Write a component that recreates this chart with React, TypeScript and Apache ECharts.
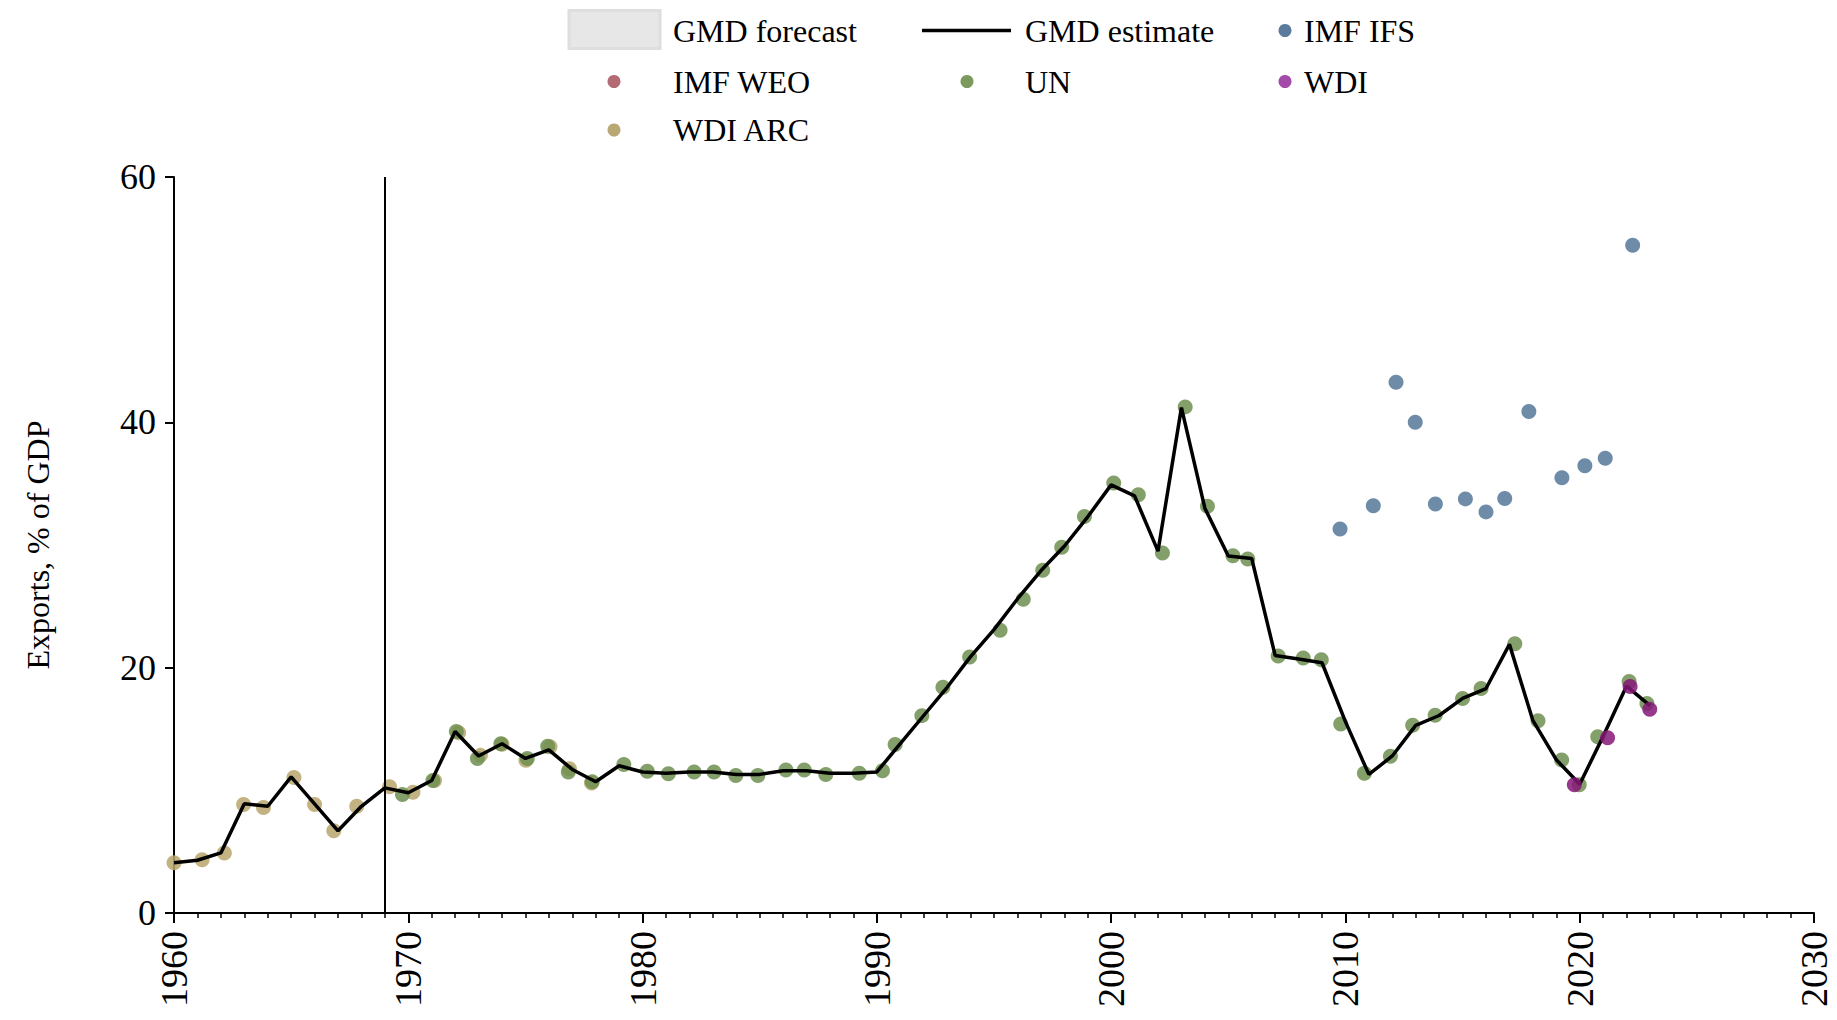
import React, { useEffect, useRef } from "react";
import * as echarts from "echarts";

// ---------------- data ----------------
const years = [
  1960, 1961, 1962, 1963, 1964, 1965, 1966, 1967, 1968, 1969,
  1970, 1971, 1972, 1973, 1974, 1975, 1976, 1977, 1978, 1979,
  1980, 1981, 1982, 1983, 1984, 1985, 1986, 1987, 1988, 1989,
  1990, 1991, 1992, 1993, 1994, 1995, 1996, 1997, 1998, 1999,
  2000, 2001, 2002, 2003, 2004, 2005, 2006, 2007, 2008, 2009,
  2010, 2011, 2012, 2013, 2014, 2015, 2016, 2017, 2018, 2019,
  2020, 2021, 2022, 2023,
];
const gmdEstimate = [
  4.1, 4.3, 4.9, 8.9, 8.7, 11.1, 8.9, 6.7, 8.7, 10.2,
  9.8, 10.8, 14.8, 12.8, 13.8, 12.6, 13.3, 11.7, 10.7, 12.0,
  11.5, 11.4, 11.5, 11.5, 11.3, 11.3, 11.6, 11.6, 11.4, 11.4,
  11.5, 13.8, 16.1, 18.4, 20.9, 23.1, 25.6, 27.9, 29.9, 32.3,
  34.9, 34.0, 29.5, 41.2, 33.0, 29.1, 28.9, 21.0, 20.7, 20.4,
  15.6, 11.3, 12.8, 15.3, 16.1, 17.5, 18.3, 21.9, 15.7, 12.5,
  10.5, 14.4, 18.5, 16.9,
];

const ifsX = [2009.77, 2011.19, 2012.16, 2012.98, 2013.84, 2015.12, 2016.0, 2016.8, 2017.83, 2019.24, 2020.22, 2021.09, 2022.26];
const ifsY = [31.3, 33.2, 43.27, 40.0, 33.35, 33.76, 32.7, 33.8, 40.88, 35.48, 36.47, 37.07, 54.44];

const weoX: number[] = [];
const weoY: number[] = [];

const unX = [
  1969.75, 1971.05, 1972.05, 1972.95, 1973.95, 1975.08, 1975.95, 1976.83, 1977.85, 1979.2,
  1980.2, 1981.1, 1982.2, 1983.05, 1983.98, 1984.92, 1986.12, 1986.9, 1987.82, 1989.25,
  1990.24, 1990.78, 1991.92, 1992.82, 1993.96, 1995.26, 1996.25, 1997.08, 1997.89, 1998.86,
  2000.11, 2001.16, 2002.19, 2003.16, 2004.11, 2005.2, 2005.83, 2007.13, 2008.2, 2008.97,
  2009.8, 2010.81, 2011.92, 2012.87, 2013.83, 2015.0, 2015.79, 2017.23, 2018.22, 2019.23,
  2019.98, 2020.77, 2022.11, 2022.87,
];
const unY = [
  9.66, 10.8, 14.8, 12.6, 13.8, 12.6, 13.6, 11.5, 10.7, 12.1,
  11.55, 11.35, 11.5, 11.5, 11.2, 11.2, 11.65, 11.65, 11.3, 11.4,
  11.6, 13.73, 16.09, 18.41, 20.87, 23.05, 25.58, 27.95, 29.81, 32.32,
  35.05, 34.09, 29.35, 41.26, 33.16, 29.13, 28.86, 20.95, 20.78, 20.64,
  15.4, 11.4, 12.77, 15.3, 16.12, 17.48, 18.3, 21.95, 15.67, 12.48,
  10.45, 14.36, 18.88, 17.07,
];

const wdiX = [2019.77, 2021.19, 2022.15, 2022.99];
const wdiY = [10.45, 14.29, 18.47, 16.6];

const wdiArcX = [1960.0, 1961.2, 1962.15, 1962.97, 1963.82, 1965.12, 1966.0, 1966.82, 1967.8, 1969.2, 1970.2, 1971.12, 1972.15, 1973.08, 1974.0, 1975.02, 1976.05, 1976.88, 1977.82];
const wdiArcY = [4.1, 4.35, 4.9, 8.85, 8.6, 11.05, 8.85, 6.7, 8.7, 10.3, 9.85, 10.8, 14.7, 12.85, 13.75, 12.45, 13.55, 11.75, 10.6];

const markYears = [1969];
const xTicks = { min: 1960, max: 2030, interval: 10 };
const yTicks = { min: 0, max: 60, interval: 20 };

const legendNames = ["GMD forecast", "GMD estimate", "IMF IFS", "IMF WEO", "UN", "WDI", "WDI ARC"];

// ---------------- styling ----------------
const FONT = '"Liberation Serif", "Times New Roman", serif';
const COLORS = {
  ifs: "#557799",
  weo: "#b46470",
  un: "#6f8f50",
  wdi: "#861878",
  wdiArc: "#b8a46c",
};
const LEG_COLORS = {
  ifs: "#5a7b9c",
  weo: "#b46a72",
  un: "#7c9a5e",
  wdi: "#a44aa8",
  wdiArc: "#b9a774",
};

const pairs = (xs: number[], ys: number[]) => xs.map((x, i) => [x, ys[i]]);

export default function App() {
  const ref = useRef<HTMLDivElement>(null);

  useEffect(() => {
    if (!ref.current) return;
    const chart = echarts.init(ref.current, undefined, { renderer: "svg" });

    const scatter = (name: string, xs: number[], ys: number[], color: string, z: number) => ({
      name,
      type: "scatter",
      data: pairs(xs, ys),
      symbol: "circle",
      symbolSize: 15,
      z,
      itemStyle: { color, opacity: 0.85 },
      silent: true,
    });

    const legRowY = [30.5, 81.5, 130];
    const colDot = [614, 967, 1285];
    const colText = [673, 1025, 1304];
    const txt = (s: string, x: number, y: number) => ({
      type: "text",
      x,
      y,
      style: { text: s, fontSize: 32, fontFamily: FONT, fill: "#000", verticalAlign: "middle", align: "left" },
    });
    const dot = (cx: number, cy: number, fill: string) => ({
      type: "circle",
      shape: { cx, cy, r: 6.5 },
      style: { fill },
    });

    const option: any = {
      animation: false,
      backgroundColor: "#ffffff",
      grid: { left: 174, right: 23, top: 177, bottom: 107, containLabel: false },
      xAxis: {
        type: "value",
        min: xTicks.min,
        max: xTicks.max,
        interval: xTicks.interval,
        axisLine: { show: true, onZero: false, lineStyle: { color: "#000", width: 2 } },
        axisTick: { show: true, length: 10, lineStyle: { color: "#000", width: 2 } },
        minorTick: { show: true, splitNumber: 10, length: 5, lineStyle: { color: "#000", width: 1.5 } },
        splitLine: { show: false },
        minorSplitLine: { show: false },
        axisLabel: {
          rotate: 90,
          margin: 18,
          fontSize: 38,
          fontFamily: FONT,
          color: "#000",
          formatter: (v: number) => String(v),
        },
      },
      yAxis: {
        type: "value",
        min: yTicks.min,
        max: yTicks.max,
        interval: yTicks.interval,
        name: "Exports, % of GDP",
        nameLocation: "middle",
        nameRotate: 90,
        nameGap: 120,
        nameTextStyle: { fontSize: 32, fontFamily: FONT, color: "#000" },
        axisLine: { show: true, lineStyle: { color: "#000", width: 2 } },
        axisTick: { show: true, length: 9, lineStyle: { color: "#000", width: 2 } },
        splitLine: { show: false },
        axisLabel: { margin: 18, fontSize: 36, fontFamily: FONT, color: "#000", formatter: (v: number) => String(v) },
      },
      series: [
        scatter(legendNames[2], ifsX, ifsY, COLORS.ifs, 2),
        scatter(legendNames[3], weoX, weoY, COLORS.weo, 2),
        scatter(legendNames[6], wdiArcX, wdiArcY, COLORS.wdiArc, 2),
        scatter(legendNames[4], unX, unY, COLORS.un, 3),
        {
          name: legendNames[1],
          type: "line",
          data: pairs(years, gmdEstimate),
          showSymbol: false,
          symbol: "none",
          z: 5,
          silent: true,
          lineStyle: { color: "#000", width: 3.5 },
          markLine: {
            silent: true,
            symbol: ["none", "none"],
            label: { show: false },
            lineStyle: { color: "#000", width: 2, type: "solid" },
            data: markYears.map((y) => ({ xAxis: y })),
          },
        },
        scatter(legendNames[5], wdiX, wdiY, COLORS.wdi, 6),
      ],
      graphic: [
        {
          type: "rect",
          shape: { x: 569, y: 10.5, width: 91, height: 38 },
          style: { fill: "#e7e7e7", stroke: "#dedede", lineWidth: 3 },
        },
        txt(legendNames[0], colText[0], legRowY[0]),
        {
          type: "line",
          shape: { x1: 922, y1: legRowY[0], x2: 1011, y2: legRowY[0] },
          style: { stroke: "#000", lineWidth: 3.5 },
        },
        txt(legendNames[1], colText[1], legRowY[0]),
        dot(colDot[2], legRowY[0], LEG_COLORS.ifs),
        txt(legendNames[2], colText[2], legRowY[0]),
        dot(colDot[0], legRowY[1], LEG_COLORS.weo),
        txt(legendNames[3], colText[0], legRowY[1]),
        dot(colDot[1], legRowY[1], LEG_COLORS.un),
        txt(legendNames[4], colText[1], legRowY[1]),
        dot(colDot[2], legRowY[1], LEG_COLORS.wdi),
        txt(legendNames[5], colText[2], legRowY[1]),
        dot(colDot[0], legRowY[2], LEG_COLORS.wdiArc),
        txt(legendNames[6], colText[0], legRowY[2]),
      ],
    };

    chart.setOption(option);
    return () => chart.dispose();
  }, []);

  return (
    <div
      ref={ref}
      style={{ position: "fixed", left: 0, top: 0, width: 1837, height: 1020, background: "#fff" }}
    />
  );
}
